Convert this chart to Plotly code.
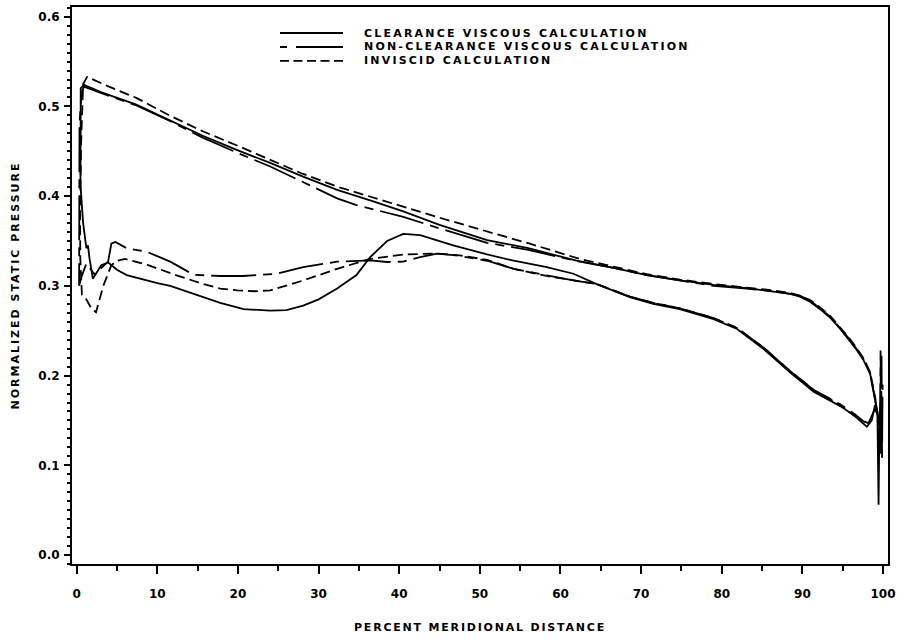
import plotly.graph_objects as go

# ---------------- data ----------------
# Clearance viscous calculation (solid)
CLR_PS_X = [0.9, 3, 7.4, 11.5, 15.7, 20, 24, 28, 32.3, 36.5, 40.5, 45, 50.9, 56, 62, 66.6, 70.7, 74.8, 79, 83.1,
            86.4, 88.5, 89.7, 91, 92.2, 93.5, 94.7, 95.7, 96.7, 97.6, 98.4, 99.0, 99.3]
CLR_PS_Y = [0.524, 0.516, 0.502, 0.485, 0.467, 0.451, 0.437, 0.422, 0.407, 0.395, 0.383, 0.368, 0.351, 0.342,
            0.328, 0.320, 0.312, 0.306, 0.301, 0.2975, 0.294, 0.291, 0.288, 0.282, 0.274, 0.264, 0.252, 0.241,
            0.229, 0.217, 0.202, 0.174, 0.158]
CLR_SS_X = [0.5, 0.47, 0.47, 0.8, 1.2, 1.4, 1.6, 2.0, 2.5, 3.05, 3.9, 5.0, 6.2, 7.5, 10, 11.6, 14.5, 17.8, 20.7,
            24, 26, 28.1, 30, 32.3, 34.7, 36.4, 38.5, 40.5, 42.6, 46.7, 50.9, 54.2, 58.3, 61.6, 64.5, 68.6, 71.5,
            74.8, 79, 81.9, 85.2, 88.5, 91.4, 94.7, 96.5, 97.6, 98.0, 98.6, 99.0, 99.3, 99.45, 99.55, 99.7]
CLR_SS_Y = [0.520, 0.48, 0.412, 0.37, 0.342, 0.345, 0.33, 0.308, 0.315, 0.323, 0.326, 0.318, 0.312, 0.309, 0.303,
            0.300, 0.291, 0.281, 0.274, 0.2725, 0.273, 0.278, 0.285, 0.297, 0.312, 0.332, 0.350, 0.358, 0.3565,
            0.345, 0.335, 0.328, 0.321, 0.3135, 0.302, 0.2875, 0.280, 0.274, 0.263, 0.252, 0.2296, 0.2035, 0.182,
            0.166, 0.155, 0.146, 0.143, 0.150, 0.167, 0.16, 0.056, 0.14, 0.17]

# Non-clearance viscous calculation (long dash)
NCL_PS_X = [0.9, 3, 7.4, 11.5, 15.7, 20, 24, 28, 32.3, 34.7, 36.5, 40.5, 45, 50.9, 56, 62.4, 66.6, 70.7, 74.8, 79,
            83.1, 86.4, 88.5, 89.7, 91, 92.2, 93.5, 94.7, 95.7, 96.7, 97.6, 98.4, 99.0, 99.4, 99.6, 99.7, 99.75,
            99.82, 99.88, 99.95]
NCL_PS_Y = [0.522, 0.515, 0.501, 0.484, 0.465, 0.448, 0.433, 0.416, 0.3975, 0.390, 0.386, 0.377, 0.364, 0.348,
            0.340, 0.327, 0.320, 0.312, 0.306, 0.300, 0.297, 0.294, 0.291, 0.289, 0.283, 0.275, 0.265, 0.253,
            0.242, 0.230, 0.218, 0.203, 0.176, 0.155, 0.13, 0.228, 0.11, 0.222, 0.105, 0.19]
NCL_SS_X = [0.6, 0.35, 0.28, 0.3, 0.6, 1.2, 2.2, 3.2, 3.9, 4.3, 4.8, 6.2, 8.7, 11.6, 14.5, 17.8, 20.7, 24.8, 28.1,
            32.3, 36.4, 38.5, 40.5, 42.6, 44.7, 47, 50.9, 54.2, 58.3, 61.6, 64.5, 68.6, 71.5, 74.8, 79, 81.9, 85.2,
            88.5, 91.4, 94.7, 96.5, 97.6, 98.2, 99.0, 99.4]
NCL_SS_Y = [0.515, 0.48, 0.40, 0.30, 0.31, 0.325, 0.313, 0.321, 0.327, 0.347, 0.349, 0.342, 0.338, 0.327, 0.3124,
            0.311, 0.311, 0.3135, 0.321, 0.327, 0.3285, 0.3266, 0.327, 0.332, 0.336, 0.334, 0.328, 0.319, 0.3117,
            0.306, 0.302, 0.288, 0.281, 0.275, 0.264, 0.253, 0.231, 0.205, 0.184, 0.168, 0.157, 0.149, 0.147,
            0.163, 0.155]

# Inviscid calculation (short dash)
INV_PS_X = [1.3, 4, 7.4, 11.5, 15.7, 20, 24, 28, 32.3, 36.5, 40.5, 45, 50, 56.2, 62.4, 66.6, 70.7, 74.8, 79, 83.1,
            86.4, 88.5, 89.7, 91, 92.2, 93.5, 94.7, 95.7, 96.7, 97.6, 98.4, 99.1]
INV_PS_Y = [0.533, 0.522, 0.5095, 0.490, 0.472, 0.456, 0.4404, 0.425, 0.4106, 0.399, 0.388, 0.376, 0.363, 0.347,
            0.330, 0.321, 0.313, 0.307, 0.302, 0.298, 0.295, 0.292, 0.289, 0.284, 0.276, 0.266, 0.254, 0.243,
            0.231, 0.219, 0.204, 0.172]
INV_SS_X = [0.8, 0.55, 0.42, 0.45, 0.65, 1.2, 1.8, 2.4, 3.3, 4.3, 5.0, 6.0, 8.7, 12.4, 15.7, 17.8, 19.9, 22, 24,
            28.1, 32.3, 36.4, 40.5, 44.7, 47.5, 50.9, 54.2, 58.3, 61.6, 64.5, 68.6, 71.5, 74.8, 79, 81.9, 85.2,
            88.5, 91.4, 94.7, 96.8]
INV_SS_Y = [0.525, 0.46, 0.38, 0.33, 0.29, 0.285, 0.275, 0.2706, 0.30, 0.323, 0.328, 0.330, 0.3236, 0.3117, 0.302,
            0.297, 0.295, 0.294, 0.295, 0.306, 0.319, 0.330, 0.335, 0.336, 0.334, 0.329, 0.319, 0.311, 0.306,
            0.302, 0.288, 0.281, 0.275, 0.264, 0.253, 0.231, 0.205, 0.184, 0.167, 0.153]

SERIES_NAMES = ["CLEARANCE VISCOUS CALCULATION",
                "NON-CLEARANCE VISCOUS CALCULATION",
                "INVISCID CALCULATION"]
X_TICKS = [0, 10, 20, 30, 40, 50, 60, 70, 80, 90, 100]
Y_TICKS = [0.0, 0.1, 0.2, 0.3, 0.4, 0.5, 0.6]

# ---------------- figure ----------------
FONT = "DejaVu Sans"
CURVE_DASH = ["solid", "45px,7px,9px,7px", "10px,5px"]
LEGEND_DASH = ["solid", "7px,9px,47px,9px", "9px,4.5px"]


def spaced(text, px):
    return f'<span style="letter-spacing:{px}px">{text}</span>'


def blade_loop(ss_x, ss_y, ps_x, ps_y):
    """suction side traversed TE->LE, then pressure side LE->TE"""
    return list(reversed(ss_x)) + list(ps_x), list(reversed(ss_y)) + list(ps_y)


fig = go.Figure()
series = [
    (CLR_SS_X, CLR_SS_Y, CLR_PS_X, CLR_PS_Y),
    (NCL_SS_X, NCL_SS_Y, NCL_PS_X, NCL_PS_Y),
    (INV_SS_X, INV_SS_Y, INV_PS_X, INV_PS_Y),
]
for name, (sx, sy, px, py), dash in zip(SERIES_NAMES, series, CURVE_DASH):
    x, y = blade_loop(sx, sy, px, py)
    fig.add_trace(go.Scatter(x=x, y=y, mode="lines", name=name, showlegend=False,
                             line=dict(color="black", width=1.8, dash=dash)))

# key (drawn as in the original plotter output)
KEY_X0, KEY_X1, KEY_TX = 0.2549, 0.3321, 0.3554
KEY_ROWS = [0.9533, 0.9282, 0.9031]
for name, dash, yr in zip(SERIES_NAMES, LEGEND_DASH, KEY_ROWS):
    fig.add_shape(type="line", xref="paper", yref="paper", x0=KEY_X0, x1=KEY_X1, y0=yr, y1=yr,
                  line=dict(color="black", width=1.8, dash=dash))
    fig.add_annotation(xref="paper", yref="paper", x=KEY_TX, y=yr, xanchor="left", yanchor="middle",
                       text=spaced(name, 2.2), showarrow=False,
                       font=dict(family=FONT, size=11, color="black", weight="bold"))

fig.update_layout(
    width=904, height=642,
    margin=dict(l=72, r=16, t=7, b=78),
    paper_bgcolor="white", plot_bgcolor="white",
    font=dict(family=FONT, size=12, color="black", weight="bold"),
    showlegend=False,
)
fig.update_xaxes(
    range=[-0.58, 100.62], tickvals=X_TICKS, ticktext=[str(v) for v in X_TICKS],
    showgrid=False, zeroline=False,
    showline=True, linecolor="black", linewidth=2, mirror=True,
    ticks="outside", ticklen=8, tickwidth=2, tickcolor="black",
    minor=dict(dtick=5, ticks="outside", ticklen=5, tickwidth=2, tickcolor="black", showgrid=False),
    tickfont=dict(family=FONT, size=12, weight="bold"),
    ticklabelstandoff=10,
    title=dict(text=spaced("PERCENT MERIDIONAL DISTANCE", 1.8), standoff=23,
               font=dict(family=FONT, size=11, weight="bold")),
    automargin=False,
)
fig.update_yaxes(
    range=[-0.0100, 0.6108], tickvals=Y_TICKS, ticktext=[f"{v:.1f}" for v in Y_TICKS],
    showgrid=False, zeroline=False,
    showline=True, linecolor="black", linewidth=2, mirror=True,
    ticks="outside", ticklen=6, tickwidth=2, tickcolor="black",
    minor=dict(dtick=0.01, ticks="outside", ticklen=3, tickwidth=2, tickcolor="black", showgrid=False),
    tickfont=dict(family=FONT, size=12, weight="bold"),
    ticklabelstandoff=2,
    title=dict(text=spaced("NORMALIZED STATIC PRESSURE", 2.0), standoff=16,
               font=dict(family=FONT, size=11, weight="bold")),
    automargin=False,
)

fig.write_html("out.html")
